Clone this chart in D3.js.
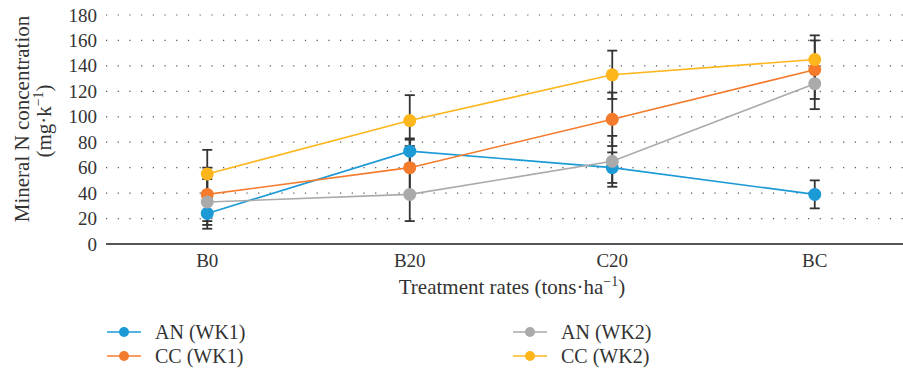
<!DOCTYPE html>
<html>
<head>
<meta charset="utf-8">
<script src="https://cdnjs.cloudflare.com/ajax/libs/d3/7.8.5/d3.min.js"></script>
<style>
  body { margin: 0; background: #fff; }
</style>
</head>
<body>
<script>
const categories = ["B0", "B20", "C20", "BC"];
const seriesNames = ["AN (WK1)", "CC (WK1)", "AN (WK2)", "CC (WK2)"];
const colors = ["#1b9ad6", "#f47a2c", "#aaaaaa", "#fdb61c"];
const anWk1 = [24, 73, 60, 39];
const ccWk1 = [39, 60, 98, 137];
const anWk2 = [33, 39, 65, 126];
const ccWk2 = [55, 97, 133, 145];
const anWk1Err = [12, 10, 12, 11];
const ccWk1Err = [21, 22, 21, 23];
const anWk2Err = [18, 21, 20, 20];
const ccWk2Err = [19, 20, 19, 19];
const yTicks = [0, 20, 40, 60, 80, 100, 120, 140, 160, 180];

const width = 903, height = 372;
const plotLeft = 106, plotRight = 903, plotTop = 15, plotBottom = 244;
const serif = "'Liberation Serif', serif";

const svg = d3.select("body").append("svg")
  .attr("width", width)
  .attr("height", height);

const x = d3.scaleBand()
  .domain(categories)
  .range([plotLeft, 916]);

const y = d3.scaleLinear()
  .domain([0, 180])
  .range([plotBottom, plotTop]);

const cx = d => x(d) + x.bandwidth() / 2;

// dotted gridlines
svg.append("g")
  .selectAll("line")
  .data(yTicks.filter(t => t > 0))
  .join("line")
  .attr("x1", plotLeft)
  .attr("x2", plotRight)
  .attr("y1", d => y(d))
  .attr("y2", d => y(d))
  .attr("stroke", "#555")
  .attr("stroke-width", 1.2)
  .attr("stroke-dasharray", "1.2 10.5");

// y axis labels
const yAxis = d3.axisLeft(y).tickValues(yTicks).tickSize(0).tickPadding(9);
const yg = svg.append("g")
  .attr("transform", "translate(" + plotLeft + ",0)")
  .call(yAxis);
yg.select(".domain").remove();
yg.selectAll("text")
  .style("font-size", "19px");

// x axis
const xAxis = d3.axisBottom(x).tickSize(0).tickPadding(10);
const xg = svg.append("g")
  .attr("transform", "translate(0," + plotBottom + ")")
  .call(xAxis);
xg.select(".domain").remove();
xg.selectAll("text")
  .style("font-size", "19px");

svg.append("line")
  .attr("x1", plotLeft)
  .attr("x2", plotRight)
  .attr("y1", y(0))
  .attr("y2", y(0))
  .attr("stroke", "#555")
  .attr("stroke-width", 2);

// axis titles
const xt = svg.append("text")
  .attr("x", 512)
  .attr("y", 294)
  .attr("text-anchor", "middle")
  .style("font-size", "21px")
  .text("Treatment rates (tons·ha");
xt.append("tspan").attr("dy", -8).style("font-size", "14px").text("−1");
xt.append("tspan").attr("dy", 8).text(")");

svg.append("text")
  .attr("transform", "translate(29,119) rotate(-90)")
  .attr("text-anchor", "middle")
  .style("font-size", "21px")
  .text("Mineral N concentration");
const yt2 = svg.append("text")
  .attr("transform", "translate(51,121) rotate(-90)")
  .attr("text-anchor", "middle")
  .style("font-size", "21px")
  .text("(mg·k");
yt2.append("tspan").attr("dy", -8).style("font-size", "14px").text("−1");
yt2.append("tspan").attr("dy", 8).text(")");

const series = [
  {name: seriesNames[0], values: anWk1, err: anWk1Err, color: colors[0]},
  {name: seriesNames[1], values: ccWk1, err: ccWk1Err, color: colors[1]},
  {name: seriesNames[2], values: anWk2, err: anWk2Err, color: colors[2]},
  {name: seriesNames[3], values: ccWk2, err: ccWk2Err, color: colors[3]}
];

const line = d3.line()
  .x((d, i) => cx(categories[i]))
  .y(d => y(d));

// lines
svg.append("g")
  .selectAll("path")
  .data(series)
  .join("path")
  .attr("d", s => line(s.values))
  .attr("fill", "none")
  .attr("stroke", s => s.color)
  .attr("stroke-width", 1.6);

// error bars
const errData = [];
series.forEach(s => {
  s.values.forEach((v, i) => {
    errData.push({x: cx(categories[i]), lo: v - s.err[i], hi: v + s.err[i]});
  });
});
const eg = svg.append("g").attr("stroke", "#333").attr("stroke-width", 1.8);
eg.selectAll(".stem")
  .data(errData)
  .join("line")
  .attr("class", "stem")
  .attr("x1", d => d.x).attr("x2", d => d.x)
  .attr("y1", d => y(d.lo)).attr("y2", d => y(d.hi));
eg.selectAll(".caps")
  .data(errData.flatMap(d => [{x: d.x, v: d.lo}, {x: d.x, v: d.hi}]))
  .join("line")
  .attr("class", "caps")
  .attr("x1", d => d.x - 5).attr("x2", d => d.x + 5)
  .attr("y1", d => y(d.v)).attr("y2", d => y(d.v));

// markers
series.forEach(s => {
  svg.append("g")
    .selectAll("circle")
    .data(s.values)
    .join("circle")
    .attr("cx", (d, i) => cx(categories[i]))
    .attr("cy", d => y(d))
    .attr("r", 6.5)
    .attr("fill", s.color);
});

// legend
const legendPos = [[107, 332], [107, 356], [513, 332], [513, 356]];
const lg = svg.append("g")
  .selectAll("g")
  .data(series)
  .join("g")
  .attr("transform", (s, i) => "translate(" + legendPos[i][0] + "," + legendPos[i][1] + ")");
lg.append("line")
  .attr("x1", 0).attr("x2", 34)
  .attr("stroke", s => s.color)
  .attr("stroke-width", 1.6);
lg.append("circle")
  .attr("cx", 17)
  .attr("r", 5)
  .attr("fill", s => s.color);
lg.append("text")
  .attr("x", 48)
  .attr("y", 6.5)
  .style("font-size", "20px")
  .text(s => s.name);

svg.selectAll("text")
  .style("font-family", serif)
  .attr("fill", "#333");
</script>
</body>
</html>
